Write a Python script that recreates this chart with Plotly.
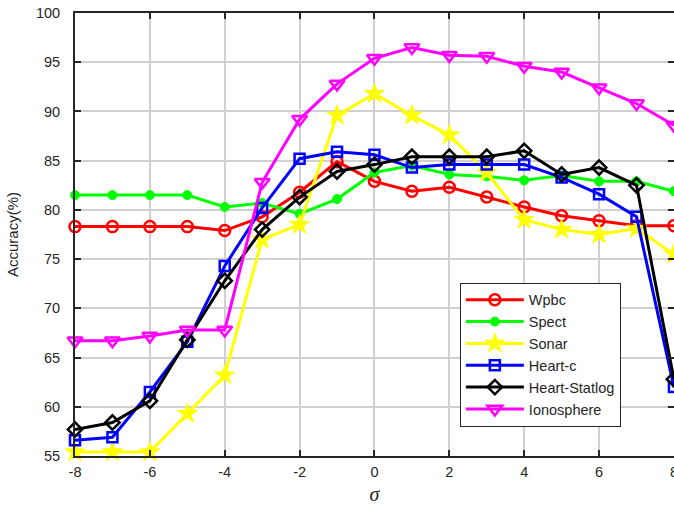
import plotly.graph_objects as go

sigma = [-8, -7, -6, -5, -4, -3, -2, -1, 0, 1, 2, 3, 4, 5, 6, 7, 8]

wpbc = [78.3, 78.3, 78.3, 78.3, 77.9, 79.3, 81.8, 84.9, 82.9, 81.9, 82.3, 81.3, 80.3, 79.4, 78.9, 78.4, 78.4]
spect = [81.5, 81.5, 81.5, 81.5, 80.3, 80.7, 79.6, 81.1, 83.8, 84.5, 83.6, 83.4, 83.0, 83.5, 82.9, 82.9, 81.9]
sonar = [55.4, 55.4, 55.4, 59.3, 63.2, 77.0, 78.5, 89.6, 91.8, 89.6, 87.6, 83.8, 79.0, 78.0, 77.5, 78.1, 75.5]
heart_c = [56.6, 56.9, 61.5, 66.6, 74.3, 80.2, 85.2, 85.9, 85.6, 84.3, 84.6, 84.6, 84.6, 83.3, 81.6, 79.3, 62.0]
heart_statlog = [57.7, 58.4, 60.6, 66.8, 72.8, 78.0, 81.3, 83.9, 84.6, 85.4, 85.4, 85.4, 86.0, 83.6, 84.3, 82.5, 62.8]
ionosphere = [66.7, 66.7, 67.2, 67.8, 67.8, 82.8, 89.2, 92.8, 95.4, 96.5, 95.7, 95.6, 94.6, 94.0, 92.4, 90.8, 88.6]

x_ticks = [-8, -6, -4, -2, 0, 2, 4, 6, 8]
y_ticks = [55, 60, 65, 70, 75, 80, 85, 90, 95, 100]

series = [
    ("Wpbc", wpbc, "#FF0000", "circle-open", 11, 2.5),
    ("Spect", spect, "#00FF00", "circle", 9, 1),
    ("Sonar", sonar, "#FFFF00", "star", 15, 1),
    ("Heart-c", heart_c, "#0000FF", "square-open", 10, 2.5),
    ("Heart-Statlog", heart_statlog, "#000000", "diamond-open", 11, 2.5),
    ("Ionosphere", ionosphere, "#FF00FF", "triangle-down-open", 13, 2.5),
]

fig = go.Figure()
for name, vals, color, sym, size, mlw in series:
    fig.add_trace(go.Scatter(
        x=sigma, y=vals, name=name, mode="lines+markers",
        line=dict(color=color, width=3),
        marker=dict(symbol=sym, size=size, color=color,
                    line=dict(color=color, width=mlw)),
        cliponaxis=False,
    ))

axis_common = dict(
    showline=True, linecolor="#262626", linewidth=2, mirror="ticks",
    ticks="inside", ticklen=6, tickwidth=2, tickcolor="#262626",
    showgrid=True, gridcolor="#d0d0d0", gridwidth=1.5,
    zeroline=False,
    tickfont=dict(family="Liberation Sans, Arial", size=14.5, color="#262626"),
)

fig.update_layout(
    width=674, height=505,
    margin=dict(l=74.5, r=0, t=12.5, b=49, autoexpand=False),
    plot_bgcolor="white", paper_bgcolor="white",
    xaxis=dict(range=[-8, 8.002], tickvals=x_ticks, ticktext=[str(v) for v in x_ticks],
               ticklabeloverflow="allow", ticklabelstandoff=2, automargin=False,
               title=dict(text="<i>σ</i>", font=dict(family="Liberation Serif", size=20, color="#262626"),
                          standoff=8),
               **axis_common),
    yaxis=dict(range=[55, 100], tickvals=y_ticks, ticktext=[str(v) for v in y_ticks],
               ticklabelstandoff=10, automargin=False,
               title=dict(text="Accuracy(%)", font=dict(family="Liberation Sans, Arial", size=15, color="#262626"),
                          standoff=14),
               **axis_common),
    legend=dict(x=0.6425, y=0.391, xanchor="left", yanchor="top",
                bgcolor="white", bordercolor="#262626", borderwidth=1,
                font=dict(family="Liberation Sans, Arial", size=14.5, color="#262626"),
                itemwidth=58, tracegroupgap=0),
    showlegend=True,
)

fig.write_html("out.html")
